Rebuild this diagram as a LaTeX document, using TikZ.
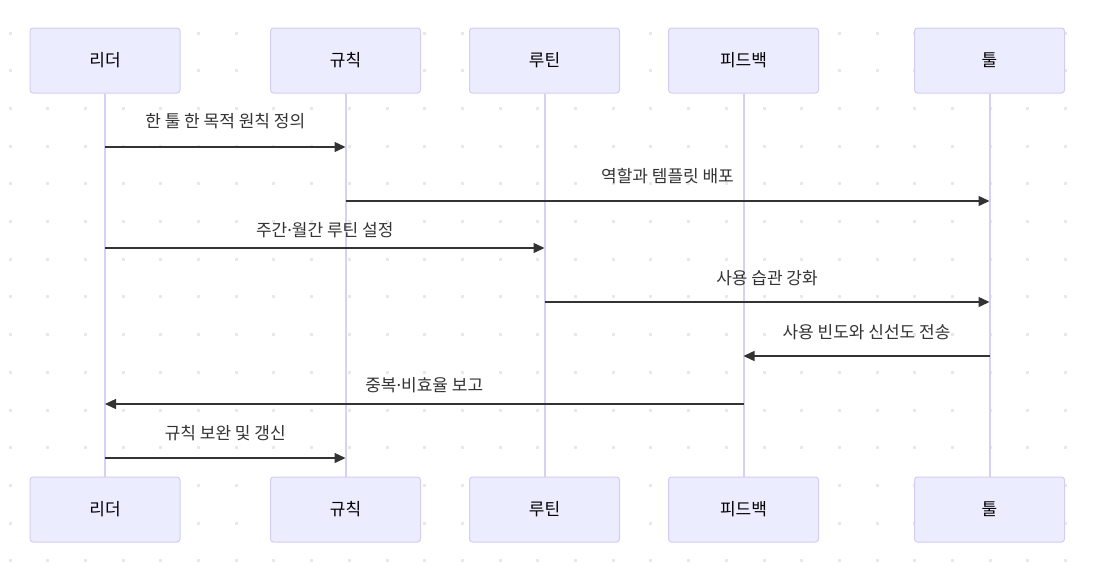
\documentclass[tikz,border=0pt]{standalone}
\usepackage{fontspec}
\setmainfont{Noto Sans CJK KR}
\newfontfamily\dotfont{Noto Sans}
\newcommand{\mdot}{{\dotfont ·}}
\usetikzlibrary{arrows.meta,calc}
\definecolor{actfill}{HTML}{ECECFF}
\definecolor{actline}{HTML}{D6CCF2}
\definecolor{lifeline}{HTML}{D9CFF5}
\definecolor{msgcol}{HTML}{333333}
\definecolor{dotcol}{HTML}{E8E8E8}
\tikzset{
  actor/.style={draw=actline, fill=actfill, rounded corners=3pt, line width=1pt,
    minimum width=150pt, minimum height=65pt, font=\fontsize{17}{20}\selectfont},
  life/.style={draw=lifeline, line width=2pt},
  msg/.style={draw=msgcol, line width=1.4pt, -{Triangle[length=11pt,width=10pt]}},
  msglabel/.style={text=msgcol, font=\fontsize{17}{20}\selectfont}
}

\begin{document}
\begin{tikzpicture}[x=1pt,y=-1pt]
  \useasboundingbox (0,0) rectangle (1093,566);
  \fill[white] (0,0) rectangle (1093,566);
  % background dots
  \foreach \i in {0,...,28}
    \foreach \j in {0,...,14}
      \fill[dotcol] ({8.5+37.7*\i},{31.5+37.7*\j}) rectangle ++(3,3);

  % actors, top and bottom
  \foreach \name/\x/\txt in {lead/105/리더, rule/345.5/규칙, rout/544.5/루틴,
                             feed/743.5/피드백, tool/989.5/툴} {
    \node[actor] (t\name) at (\x,60.5) {\txt};
    \node[actor] (b\name) at (\x,509.5) {\txt};
    \draw[life] (t\name) -- (b\name);
  }

  % messages
  \foreach \from/\to/\ya/\yl/\txt in {
      lead/rule/147/121/한 툴 한 목적 원칙 정의,
      rule/tool/201/176/역할과 템플릿 배포,
      lead/rout/248/230/주간\mdot 월간 루틴 설정,
      rout/tool/302/278/사용 습관 강화,
      tool/feed/356/332/사용 빈도와 신선도 전송,
      feed/lead/404/385/중복\mdot 비효율 보고,
      lead/rule/458/433/규칙 보완 및 갱신} {
    \coordinate (a) at (t\from |- 0,\ya);
    \coordinate (b) at (t\to |- 0,\ya);
    \draw[msg] (a) -- (b);
    \node[msglabel] (l\ya) at ($(a)!0.5!(b) + (0,\yl-\ya)$) {\txt};
  }
\end{tikzpicture}
\end{document}
